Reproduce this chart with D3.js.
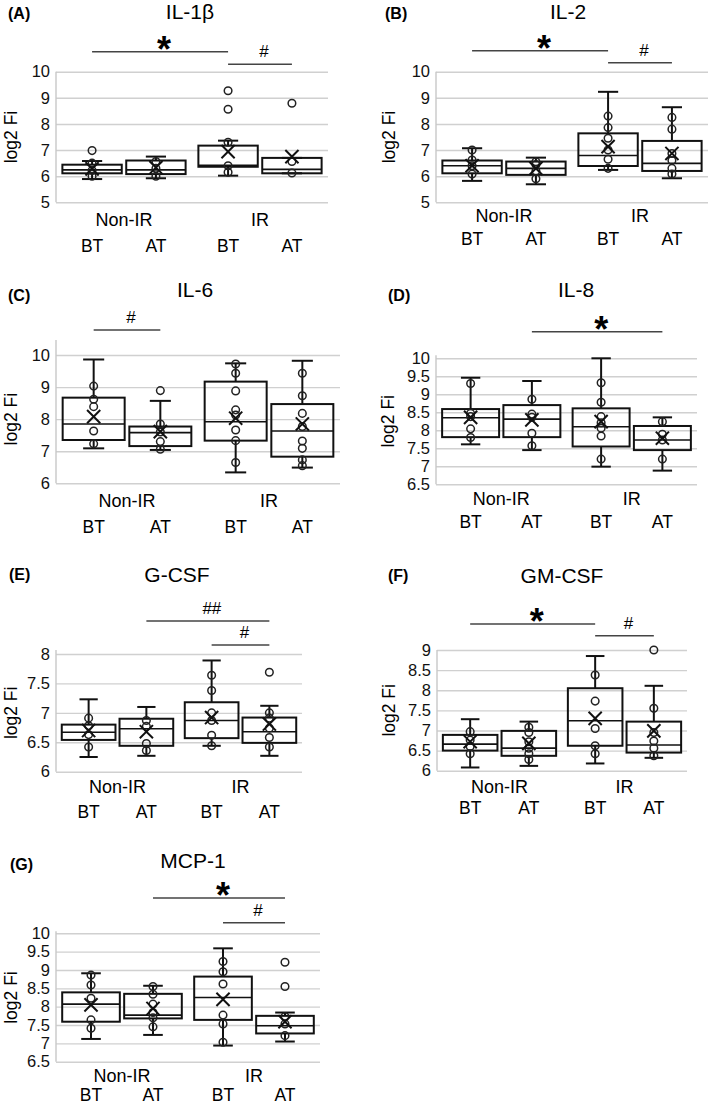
<!DOCTYPE html>
<html><head><meta charset="utf-8">
<script src="https://cdn.jsdelivr.net/npm/d3@7"></script>
<style>body{margin:0;background:#fff}svg{display:block}</style>
</head><body>
<script>
// ---------- DATA ----------
const groups = ["Non-IR", "IR"];
const phases = ["BT", "AT"];
const cytokines = ["IL-1β", "IL-2", "IL-6", "IL-8", "G-CSF", "GM-CSF", "MCP-1"];
const panelLetters = ["(A)", "(B)", "(C)", "(D)", "(E)", "(F)", "(G)"];

// box stats per box: [lowWhisker, q1, median, q3, highWhisker, mean]  order: Non-IR BT, Non-IR AT, IR BT, IR AT
const il1bBoxes = [[5.89, 6.11, 6.24, 6.44, 6.58, 6.28], [5.92, 6.08, 6.24, 6.6, 6.75, 6.33], [6.02, 6.36, 6.42, 7.17, 7.36, 6.94], [6.11, 6.11, 6.26, 6.7, 6.7, 6.75]];
const il1bPoints = [[6.98, 6.5, 6.22, 6.0], [6.56, 6.3, 6.0], [9.27, 8.56, 7.3, 6.4, 6.15], [8.79, 6.56, 6.12]];
const il1bTicks = [5, 6, 7, 8, 9, 10];
const il1bSig = [["Non-IR BT", "IR BT", "*"], ["IR BT", "IR AT", "#"]];

const il2Boxes = [[5.82, 6.11, 6.4, 6.6, 7.07, 6.4], [5.69, 6.05, 6.3, 6.56, 6.71, 6.3], [6.24, 6.39, 6.79, 7.64, 9.23, 7.13], [5.92, 6.2, 6.49, 7.35, 8.64, 6.87]];
const il2Points = [[7.0, 6.62, 6.4, 6.08], [6.55, 6.45, 6.2, 5.9], [8.3, 7.86, 7.45, 7.0, 6.65, 6.3], [8.25, 7.8, 6.87, 6.6, 6.3, 6.08]];
const il2Ticks = [5, 6, 7, 8, 9, 10];
const il2Sig = [["Non-IR BT", "IR BT", "*"], ["IR BT", "IR AT", "#"]];

const il6Boxes = [[7.09, 7.35, 7.85, 8.67, 9.86, 8.08], [7.04, 7.16, 7.58, 7.77, 8.57, 7.61], [6.34, 7.33, 7.92, 9.17, 9.74, 8.03], [6.49, 6.83, 7.63, 8.47, 9.82, 7.85]];
const il6Points = [[9.03, 8.62, 8.39, 7.63, 7.23], [8.89, 7.85, 7.6, 7.3, 7.06], [9.72, 9.43, 8.88, 8.29, 8.13, 7.66, 7.33, 6.65], [9.43, 8.73, 8.18, 7.77, 7.32, 7.09, 6.73, 6.55]];
const il6Ticks = [6, 7, 8, 9, 10];
const il6Sig = [["Non-IR BT", "Non-IR AT", "#"]];

const il8Boxes = [[7.61, 7.81, 8.35, 8.59, 9.46, 8.36], [7.45, 7.81, 8.31, 8.7, 9.37, 8.29], [6.99, 7.55, 8.1, 8.61, 10.0, 8.24], [6.88, 7.45, 7.73, 8.12, 8.36, 7.78]];
const il8Points = [[9.3, 8.47, 8.38, 8.04, 7.8], [8.86, 8.45, 8.36, 7.92, 7.57], [9.32, 8.78, 8.38, 8.21, 8.06, 7.84, 7.2], [8.24, 7.89, 7.73, 7.2]];
const il8Ticks = [6.5, 7, 7.5, 8, 8.5, 9, 9.5, 10];
const il8Sig = [["Non-IR AT", "IR AT", "*"]];

const gcsfBoxes = [[6.25, 6.54, 6.67, 6.8, 7.23, 6.7], [6.27, 6.44, 6.73, 6.9, 7.1, 6.68], [6.44, 6.57, 6.87, 7.18, 7.89, 6.92], [6.27, 6.49, 6.68, 6.92, 7.12, 6.81]];
const gcsfPoints = [[6.91, 6.78, 6.63, 6.42], [6.87, 6.77, 6.48, 6.36], [7.64, 7.38, 7.0, 6.87, 6.62, 6.44], [7.69, 7.0, 6.91, 6.74, 6.58, 6.42]];
const gcsfTicks = [6, 6.5, 7, 7.5, 8];
const gcsfSig = [["Non-IR AT", "IR AT", "##"], ["IR BT", "IR AT", "#"]];

const gmcsfBoxes = [[6.08, 6.5, 6.66, 6.89, 7.28, 6.72], [6.12, 6.37, 6.56, 6.99, 7.22, 6.68], [6.18, 6.62, 7.24, 8.05, 8.85, 7.3], [6.32, 6.45, 6.64, 7.22, 8.11, 6.99]];
const gmcsfPoints = [[6.97, 6.76, 6.6, 6.42], [7.08, 6.95, 6.72, 6.56, 6.42, 6.28], [8.38, 7.73, 7.05, 6.62, 6.42], [9.0, 7.55, 6.95, 6.74, 6.56, 6.37]];
const gmcsfTicks = [6, 6.5, 7, 7.5, 8, 8.5, 9];
const gmcsfSig = [["Non-IR BT", "IR BT", "*"], ["IR BT", "IR AT", "#"]];

const mcp1Boxes = [[7.12, 7.59, 8.07, 8.39, 8.91, 8.05], [7.23, 7.68, 7.77, 8.35, 8.57, 7.95], [6.94, 7.64, 8.25, 8.82, 9.59, 8.2], [7.05, 7.27, 7.48, 7.75, 7.84, 7.59]];
const mcp1Points = [[8.86, 8.59, 8.23, 7.64, 7.41], [8.55, 8.34, 8.07, 7.84, 7.7, 7.45], [9.23, 8.95, 8.62, 7.77, 7.53, 7.03], [9.21, 8.55, 7.73, 7.53, 7.21]];
const mcp1Ticks = [6.5, 7, 7.5, 8, 8.5, 9, 9.5, 10];
const mcp1Sig = [["Non-IR AT", "IR AT", "*"], ["IR BT", "IR AT", "#"]];

const yTitle = "log2 Fi";

// ---------- LAYOUT (positions only) ----------
const layouts = [
  {x0: 56, x1: 328, yTop: 71.7, yBot: 202.3, titleX: 190, titleY: 19, letterX: 8, letterY: 19, groupDy: 24, subDy: 50, ylabX: 10.5, sigDy: [-20, -7.4], axisExtra: 0},
  {x0: 436, x1: 708, yTop: 71.7, yBot: 202.3, titleX: 568, titleY: 19, letterX: 385, letterY: 19, groupDy: 20, subDy: 43, ylabX: 389, sigDy: [-21, -9], axisExtra: 0},
  {x0: 56, x1: 340, yTop: 355, yBot: 483.3, titleX: 195, titleY: 297, letterX: 8, letterY: 301, groupDy: 24, subDy: 50, ylabX: 10.5, sigDy: [-25], axisExtra: 15},
  {x0: 436, x1: 697, yTop: 358.3, yBot: 484.3, titleX: 576, titleY: 297, letterX: 388, letterY: 301, groupDy: 21, subDy: 44, ylabX: 388, sigDy: [-26.6], axisExtra: 3},
  {x0: 56, x1: 302, yTop: 654, yBot: 771.7, titleX: 177, titleY: 582, letterX: 9, letterY: 580, groupDy: 21, subDy: 46, ylabX: 10.5, sigDy: [-33, -9], axisExtra: 4},
  {x0: 437, x1: 687, yTop: 650, yBot: 770.7, titleX: 562, titleY: 583, letterX: 388, letterY: 581, groupDy: 22, subDy: 43, ylabX: 389, sigDy: [-26, -14.3], axisExtra: 0},
  {x0: 56, x1: 320, yTop: 933.3, yBot: 1061.7, titleX: 193, titleY: 868, letterX: 10, letterY: 870, groupDy: 20, subDy: 39.5, ylabX: 10.5, sigDy: [-35.3, -10.6], axisExtra: 2}
];

const panelData = [
  [il1bBoxes, il1bPoints, il1bTicks, il1bSig],
  [il2Boxes, il2Points, il2Ticks, il2Sig],
  [il6Boxes, il6Points, il6Ticks, il6Sig],
  [il8Boxes, il8Points, il8Ticks, il8Sig],
  [gcsfBoxes, gcsfPoints, gcsfTicks, gcsfSig],
  [gmcsfBoxes, gmcsfPoints, gmcsfTicks, gmcsfSig],
  [mcp1Boxes, mcp1Points, mcp1Ticks, mcp1Sig]
];

const FONT = '"Liberation Sans", Arial, Helvetica, sans-serif';
const svg = d3.select("body").append("svg").attr("width", 709).attr("height", 1105)
  .style("font-family", FONT);

panelData.forEach(([boxes, points, ticks, sig], i) => {
  const L = layouts[i];
  const g = svg.append("g");
  const y = d3.scaleLinear().domain(d3.extent(ticks)).range([L.yBot, L.yTop]);
  const gx = d3.scaleBand().domain(groups).range([L.x0, L.x1]);
  const px = d3.scaleBand().domain(phases).range([0, gx.bandwidth()]).paddingInner(0.07).paddingOuter(0.1);
  const bw = px.bandwidth();
  const keys = [];
  groups.forEach(gr => phases.forEach(ph => keys.push({gr, ph, key: gr + " " + ph, cx: gx(gr) + px(ph) + bw / 2})));
  const cxOf = k => keys.find(d => d.key === k).cx;

  // title & letter
  g.append("text").attr("x", L.letterX).attr("y", L.letterY).attr("font-size", 16).attr("font-weight", "bold").text(panelLetters[i]);
  g.append("text").attr("x", L.titleX).attr("y", L.titleY).attr("text-anchor", "middle").attr("font-size", 21).text(cytokines[i]);

  // gridlines + tick labels
  const ax = g.append("g").attr("transform", `translate(${L.x0},0)`)
    .call(d3.axisLeft(y).tickValues(ticks).tickSize(-(L.x1 - L.x0)).tickPadding(6).tickFormat(d3.format("~g")));
  ax.select(".domain").remove();
  ax.selectAll(".tick line").attr("stroke", "#d0d0d0").attr("stroke-width", 1.4);
  ax.selectAll(".tick text").attr("font-size", 16.5).attr("font-family", FONT).attr("fill", "#111");
  g.append("line").attr("x1", L.x0).attr("x2", L.x0).attr("y1", L.yTop - L.axisExtra).attr("y2", L.yBot)
    .attr("stroke", "#c8c8c8").attr("stroke-width", 1.4);

  // y title
  g.append("text").attr("transform", `translate(${L.ylabX},${(L.yTop + L.yBot) / 2}) rotate(-90)`)
    .attr("text-anchor", "middle").attr("dy", "0.35em").attr("font-size", 17.5).text(yTitle);

  // category labels
  groups.forEach(gr => {
    g.append("text").attr("x", gx(gr) + gx.bandwidth() / 2).attr("y", L.yBot + L.groupDy)
      .attr("text-anchor", "middle").attr("font-size", 18).text(gr);
  });
  keys.forEach(k => {
    g.append("text").attr("x", k.cx).attr("y", L.yBot + L.subDy)
      .attr("text-anchor", "middle").attr("font-size", 17.5).text(k.ph);
  });

  // boxes
  const cap = bw * 0.34;
  keys.forEach((k, j) => {
    const [lo, q1, med, q3, hi, mean] = boxes[j];
    const bg = g.append("g").attr("stroke", "#111").attr("stroke-width", 2).attr("fill", "none");
    bg.append("line").attr("x1", k.cx).attr("x2", k.cx).attr("y1", y(q3)).attr("y2", y(hi));
    bg.append("line").attr("x1", k.cx).attr("x2", k.cx).attr("y1", y(q1)).attr("y2", y(lo));
    bg.append("line").attr("x1", k.cx - cap / 2).attr("x2", k.cx + cap / 2).attr("y1", y(hi)).attr("y2", y(hi));
    bg.append("line").attr("x1", k.cx - cap / 2).attr("x2", k.cx + cap / 2).attr("y1", y(lo)).attr("y2", y(lo));
    bg.append("rect").attr("x", k.cx - bw / 2).attr("width", bw).attr("y", y(q3)).attr("height", y(q1) - y(q3));
    bg.append("line").attr("x1", k.cx - bw / 2).attr("x2", k.cx + bw / 2).attr("y1", y(med)).attr("y2", y(med)).attr("stroke-width", 1.6);
    bg.selectAll("circle").data(points[j]).join("circle")
      .attr("cx", k.cx).attr("cy", d => y(d)).attr("r", 3.8).attr("stroke", "#222").attr("stroke-width", 1.5);
    bg.append("path").attr("d", d3.symbol(d3.symbolX, 115)()).attr("transform", `translate(${k.cx},${y(mean)})`)
      .attr("stroke-width", 2);
  });

  // significance
  sig.forEach(([a, b, lab], s) => {
    const ly = L.yTop + L.sigDy[s];
    const xa = cxOf(a), xb = cxOf(b);
    g.append("line").attr("x1", xa).attr("x2", xb).attr("y1", ly).attr("y2", ly).attr("stroke", "#444").attr("stroke-width", 1.4);
    if (lab === "*") {
      g.append("text").attr("x", (xa + xb) / 2 + 4).attr("y", ly + 10).attr("text-anchor", "middle")
        .attr("font-size", 36).attr("font-weight", "bold").text(lab);
    } else {
      g.append("text").attr("x", (xa + xb) / 2 + 4).attr("y", ly - 7).attr("text-anchor", "middle")
        .attr("font-size", 17).text(lab);
    }
  });
});
</script>
</body></html>
